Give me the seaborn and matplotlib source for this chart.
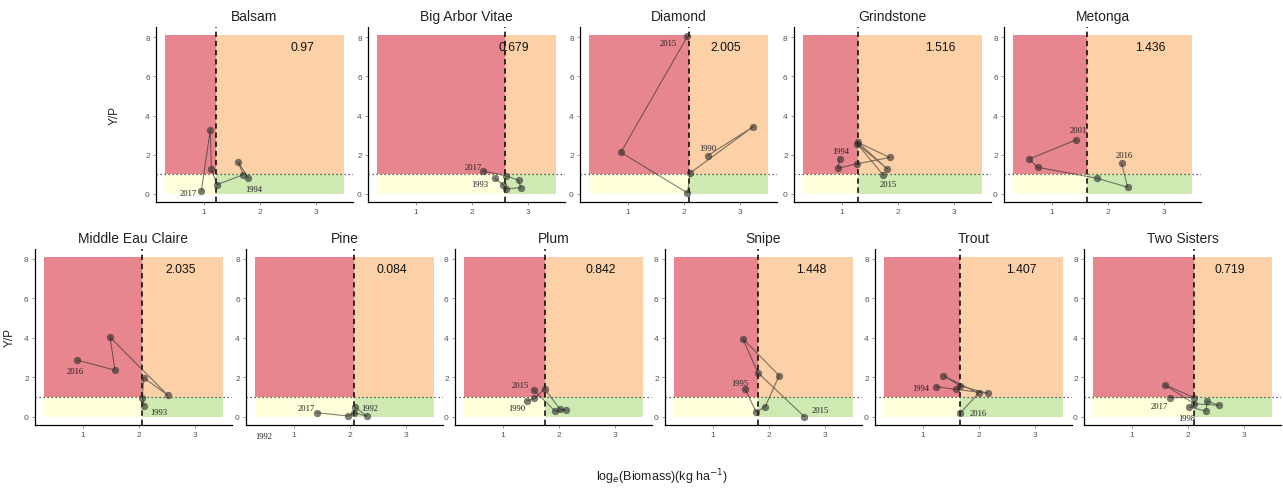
import matplotlib
matplotlib.use("Agg")
import matplotlib.pyplot as plt
import numpy as np
import pandas as pd
import seaborn as sns
from matplotlib.patches import Rectangle

# ---------------- data ----------------
LAKES = ["Balsam", "Big Arbor Vitae", "Diamond", "Grindstone", "Metonga",
         "Middle Eau Claire", "Pine", "Plum", "Snipe", "Trout", "Two Sisters"]
THRESHOLDS = [1.22, 2.59, 2.08, 1.28, 1.63, 2.05, 2.07, 1.74, 1.80, 1.65, 2.11]
SCORES = ["0.97", "0.679", "2.005", "1.516", "1.436", "2.035", "0.084",
          "0.842", "1.448", "1.407", "0.719"]

BALSAM_X = [1.79, 1.61, 1.70, 1.23, 1.13, 1.11, 0.95]
BALSAM_Y = [0.80, 1.61, 0.98, 0.47, 1.27, 3.27, 0.14]
BIGARBOR_X = [2.41, 2.55, 2.61, 2.87, 2.83, 2.60, 2.20]
BIGARBOR_Y = [0.80, 0.47, 0.25, 0.32, 0.69, 0.93, 1.17]
DIAMOND_X = [2.42, 3.24, 2.11, 2.06, 0.87, 2.06]
DIAMOND_Y = [1.95, 3.44, 1.07, 0.05, 2.12, 8.05]
GRIND_X = [0.96, 0.92, 1.26, 1.85, 1.28, 1.81, 1.27, 1.73]
GRIND_Y = [1.78, 1.31, 1.53, 1.86, 2.63, 1.27, 2.55, 0.98]
METONGA_X = [1.43, 0.59, 0.74, 1.80, 2.35, 2.24]
METONGA_Y = [2.76, 1.78, 1.36, 0.80, 0.34, 1.56]
MEC_X = [2.09, 2.06, 2.08, 2.51, 1.48, 1.57, 0.89]
MEC_Y = [0.56, 0.98, 1.99, 1.11, 4.04, 2.37, 2.88]
PINE_X = [2.09, 2.30, 2.07, 1.97, 1.40]
PINE_Y = [0.50, 0.04, 0.22, 0.05, 0.22]
PLUM_X = [1.43, 1.56, 1.74, 2.01, 2.12, 1.93, 1.55]
PLUM_Y = [0.81, 0.94, 1.43, 0.42, 0.34, 0.29, 1.36]
SNIPE_X = [1.57, 1.77, 1.93, 2.18, 1.53, 1.80, 2.63]
SNIPE_Y = [1.43, 0.25, 0.52, 2.10, 3.96, 2.24, 0.02]
TROUT_X = [1.23, 1.58, 2.16, 1.66, 1.36, 1.99, 1.66]
TROUT_Y = [1.53, 1.40, 1.20, 1.57, 2.10, 1.20, 0.19]
TWOSIS_X = [2.02, 2.32, 2.34, 2.55, 2.11, 1.58, 2.11, 1.67]
TWOSIS_Y = [0.51, 0.30, 0.81, 0.59, 0.67, 1.63, 0.98, 0.98]

SERIES_X = [BALSAM_X, BIGARBOR_X, DIAMOND_X, GRIND_X, METONGA_X, MEC_X,
            PINE_X, PLUM_X, SNIPE_X, TROUT_X, TWOSIS_X]
SERIES_Y = [BALSAM_Y, BIGARBOR_Y, DIAMOND_Y, GRIND_Y, METONGA_Y, MEC_Y,
            PINE_Y, PLUM_Y, SNIPE_Y, TROUT_Y, TWOSIS_Y]

# year labels (lake index, text, x, y)
LABEL_LAKE = [0, 0, 1, 1, 2, 2, 3, 3, 4, 4, 5, 5, 6, 6, 6, 7, 7, 8, 8, 9, 9, 10, 10]
LABEL_TEXT = ["2017", "1994", "2017", "1993", "2015", "1990", "1994", "2015",
              "2001", "2016", "2016", "1993", "2017", "1992", "1992", "2015",
              "1990", "1995", "2015", "1994", "2016", "2017", "1998"]
LABEL_X = [0.72, 1.88, 2.02, 2.14, 1.72, 2.42, 0.98, 1.82, 1.47, 2.28, 0.86,
           2.35, 1.22, 2.35, 0.45, 1.31, 1.24, 1.47, 2.92, 0.96, 1.98, 1.49, 1.97]
LABEL_Y = [0.03, 0.25, 1.38, 0.50, 7.70, 2.34, 2.20, 0.51, 3.27, 2.00, 2.32,
           0.27, 0.44, 0.47, -0.96, 1.60, 0.47, 1.73, 0.35, 1.45, 0.19, 0.56, -0.03]

# ---------------- style ----------------
sns.set_theme(style="ticks")
plt.rcParams["font.family"] = ["Liberation Sans", "DejaVu Sans"]

RED = "#E8868F"
ORANGE = "#FDD1A8"
YELLOW = "#FFFFDC"
GREEN = "#CFE9B2"

W, H = 1283, 489
fig = plt.figure(figsize=(W / 100, H / 100), dpi=100)

top_lefts = [156, 368, 580, 794, 1004]
bot_lefts = [35, 246, 455, 665, 875, 1084]
AW = 197


def make_ax(left, top, bottom):
    return fig.add_axes([left / W, 1 - bottom / H, AW / W, (bottom - top) / H])


axes = [make_ax(l, 28.4, 202.8) for l in top_lefts] + \
       [make_ax(l, 250, 426) for l in bot_lefts]

for i, ax in enumerate(axes):
    thr = THRESHOLDS[i]
    ax.add_patch(Rectangle((0.3, 1), thr - 0.3, 7.1, color=RED, lw=0, zorder=0))
    ax.add_patch(Rectangle((thr, 1), 3.5 - thr, 7.1, color=ORANGE, lw=0, zorder=0))
    ax.add_patch(Rectangle((0.3, 0), thr - 0.3, 1, color=YELLOW, lw=0, zorder=0))
    ax.add_patch(Rectangle((thr, 0), 3.5 - thr, 1, color=GREEN, lw=0, zorder=0))

    df = pd.DataFrame({"x": SERIES_X[i], "y": SERIES_Y[i]})
    sns.lineplot(data=df, x="x", y="y", sort=False, estimator=None, ax=ax,
                 color="#2b2b2b", lw=0.8, alpha=0.6, zorder=3)
    sns.scatterplot(data=df, x="x", y="y", ax=ax, color="#2b2b2b", s=24,
                    alpha=0.6, edgecolor="#2b2b2b", linewidth=0.3, zorder=4)

    ax.axvline(thr, color="black", lw=1.1, ls=(0, (3.5, 2.5)), zorder=2)
    ax.axhline(1, color="#333333", lw=0.9, ls=(0, (1, 2.2)), zorder=2)

    ax.text(2.75, 7.5, SCORES[i], ha="center", va="center", fontsize=8.8,
            color="#111111", zorder=5)

    ax.set_xlim(0.14, 3.66)
    ax.set_ylim(-0.405, 8.505)
    ax.set_xticks([1, 2, 3])
    ax.set_yticks([0, 2, 4, 6, 8])
    ax.tick_params(axis="both", labelsize=6, colors="#888888", length=2.5,
                   width=0.6, pad=2, labelcolor="#555555")
    for s in ["top", "right"]:
        ax.spines[s].set_visible(False)
    for s in ["left", "bottom"]:
        ax.spines[s].set_color("black")
        ax.spines[s].set_linewidth(0.9)
    ax.set_xlabel("")
    ax.set_ylabel("")
    ax.set_title(LAKES[i], fontsize=10, pad=5, color="#222222")
    ax.set_facecolor("white")

for lk, t, x, y in zip(LABEL_LAKE, LABEL_TEXT, LABEL_X, LABEL_Y):
    axes[lk].text(x, y, t, ha="center", va="center", fontsize=6.2,
                  family="Liberation Serif", color="#222222", zorder=6,
                  clip_on=False)

axes[0].set_ylabel("Y/P", fontsize=8.5, color="#222222")
axes[0].yaxis.set_label_coords(-0.18, 0.5)
axes[5].set_ylabel("Y/P", fontsize=8.5, color="#222222")
axes[5].yaxis.set_label_coords(-0.10, 0.5)

fig.text(662 / W, 1 - 477 / H, r"log$_e$(Biomass)(kg ha$^{-1}$)",
         ha="center", va="center", fontsize=9, color="#222222")

fig.savefig("out.png", dpi=100)
